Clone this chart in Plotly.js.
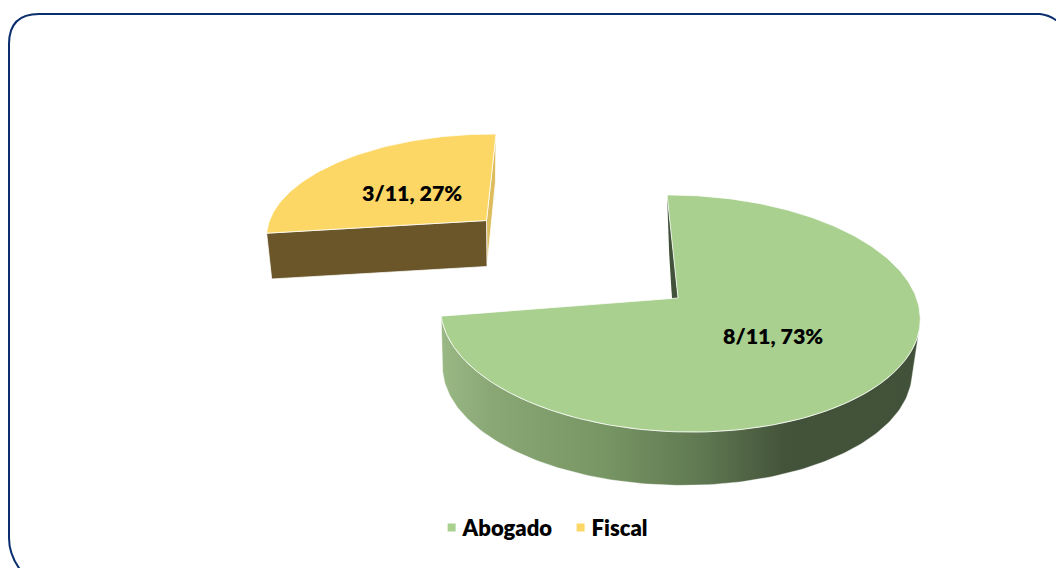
<!DOCTYPE html>
<html><head><meta charset="utf-8">
<script src="https://cdn.plot.ly/plotly-3.0.1.min.js"></script>
<style>html,body{margin:0;padding:0;background:#fff;overflow:hidden}#c{width:1056px;height:568px}</style>
</head><body><div id="c"></div>
<script>
const categories = ["Abogado", "Fiscal"];
const values = [8, 3];
const topColors = ["#a9d08e", "#fcd766"];
const total = values.reduce((a, b) => a + b, 0);
const labels = values.map(v => `${v}/${total}, ${Math.round(v / total * 100)}%`);

// Perspective view of each exploded slice (chart-space geometry only)
const views = [
  {cx: 678, cy: 298, ox: 1, A: 237.5, B: 116.5, p: 0.131, c: -11, e: 0, dx: -2.5, dy: 56, sc: 0.98, cb: -6},
  {cx: 486.5, cy: 220.5, ox: 0, A: 216, B: 97.8, p: 0.131, c: 13, e: -2.5, dx: 0.5, dy: 46, sc: 0.98, cb: 12}
];
const startAngle = -0.6;
const rad = d => d * Math.PI / 180;

function project(view, deg, lower) {
  const u = Math.sin(rad(deg)), v = Math.cos(rad(deg));
  const sc = lower ? view.sc : 1, c = lower ? view.cb : view.c;
  const w = sc / (1 + view.p * v);
  return [view.cx + view.ox + (lower ? view.dx : 0) + (view.A * u + c * v) * w,
          view.cy + (lower ? view.dy : 0) - (view.B * v + view.e * u) * w];
}
function apex(view, lower) {
  return [view.cx + (lower ? view.dx : 0), view.cy + (lower ? view.dy : 0)];
}
function arc(view, a, b, lower) {
  const pts = [], n = Math.ceil(Math.abs(b - a));
  for (let i = 0; i <= n; i++) pts.push(project(view, a + (b - a) * i / n, lower));
  return pts;
}
function poly(pts, fill, extra) {
  const closed = pts.concat([pts[0]]);
  return Object.assign({
    type: "scatter", mode: "lines", x: closed.map(p => p[0]), y: closed.map(p => p[1]),
    fill: "toself", fillcolor: fill, line: {color: "rgba(255,255,255,0.75)", width: 1},
    showlegend: false, hoverinfo: "skip"
  }, extra || {});
}

const sweep = values.map(v => v / total * 360);
const g = views[0], f = views[1];
const gStart = startAngle, gEnd = startAngle + sweep[0];
const fStart = gEnd, fEnd = gEnd + sweep[1];

const traces = [
  // Fiscal: faces, then top
  poly([apex(f, 0), project(f, fEnd, 0), project(f, fEnd, 1), apex(f, 1)], "#dcbc5c"),
  poly([apex(f, 0), project(f, fStart, 0), project(f, fStart, 1), apex(f, 1)], "#6a5628"),
  poly([apex(f, 0)].concat(arc(f, fStart, fEnd, 0)), topColors[1]),
  // Abogado: inner face, outer wall, top
  poly([project(g, gStart, 0), project(g, gStart, 1), apex(g, 1), apex(g, 0)], "#42523a", {line: {color: "rgba(255,255,255,0)", width: 0}}),
  poly(arc(g, 102, gEnd, 0).concat(arc(g, gEnd, 102, 1)), "#42523a", {
    fillgradient: {type: "horizontal", colorscale: [[0, "#9ab884"], [0.1, "#8aa876"], [0.35, "#769563"], [0.55, "#5f7751"], [0.72, "#43533a"], [1, "#42523a"]]},
    line: {color: "rgba(255,255,255,0.5)", width: 0.8}
  }),
  poly([apex(g, 0)].concat(arc(g, gStart, gEnd, 0)), topColors[0]),
  // Legend entries
  ...categories.map((name, i) => ({
    type: "scatter", mode: "markers", name, x: [null], y: [null],
    marker: {symbol: "square", size: 8, color: topColors[i]}, hoverinfo: "skip"
  }))
];

const labelPos = [[773, 336], [412, 192.5]];
const layout = {
  width: 1056, height: 568, margin: {l: 0, r: 0, t: 0, b: 0},
  paper_bgcolor: "#fff", plot_bgcolor: "#fff",
  font: {family: "Lato, sans-serif", color: "#000"},
  xaxis: {visible: false, range: [0, 1056], fixedrange: true},
  yaxis: {visible: false, range: [568, 0], fixedrange: true},
  showlegend: true,
  legend: {orientation: "h", x: 0.4002, y: 0.071, xanchor: "left", yanchor: "middle",
           entrywidth: 84, entrywidthmode: "pixels",
           font: {size: 22, family: "Lato, sans-serif", weight: 800}, bgcolor: "rgba(0,0,0,0)"},
  shapes: [{type: "path", xref: "x", yref: "y",
            path: "M 22 572 Q 9 556 9 538 L 9 44 Q 9 14 39 14 L 1040 14 Q 1050 15 1060 23",
            line: {color: "#0b2e6f", width: 2}}],
  annotations: labels.map((t, i) => ({
    x: labelPos[i][0], y: labelPos[i][1], xref: "x", yref: "y", text: t,
    showarrow: false, font: {size: 21.4, family: "Lato, sans-serif", color: "#000", weight: 800}
  }))
};
Plotly.newPlot("c", traces, layout, {displayModeBar: false, staticPlot: true}).then(() => {
  // Legend keys sit closer to their text than the library's default gap
  document.querySelectorAll(".legend .legendsymbols").forEach(el => el.setAttribute("transform", "translate(9,0)"));
});
</script></body></html>
